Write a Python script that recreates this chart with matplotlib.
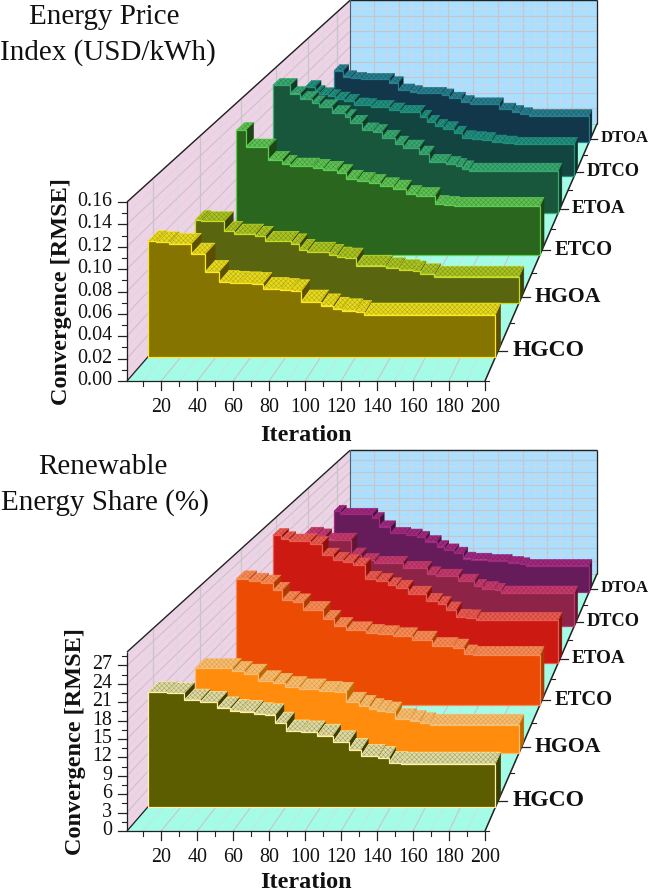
import matplotlib
matplotlib.use("Agg")
import matplotlib.pyplot as plt
from matplotlib.colors import to_rgb
from matplotlib.patches import Polygon

plt.rcParams['font.family'] = ['Liberation Serif', 'DejaVu Sans']
plt.rcParams['hatch.linewidth'] = 0.3

series_names = ["HGCO", "HGOA", "ETCO", "ETOA", "DTCO", "DTOA"]
iter_major = list(range(20, 201, 20))
iter_minor = list(range(10, 200, 20))

# Energy price panel: iteration where each step starts, and its RMSE
price_zmax = 0.16
price_ticks = [0.00, 0.02, 0.04, 0.06, 0.08, 0.10, 0.12, 0.14, 0.16]
price_hgco_it = [1, 6, 13, 26, 34, 42, 48, 54, 61, 67, 77, 83, 89, 100, 107, 112, 120, 125]
price_hgco = [.1067, .1058, .1043, .0951, .0788, .0694, .0688, .0682, .0676, .0629, .0620, .0608,
              .0512, .0476, .0445, .0430, .0414, .0390]
price_hgoa_it = [1, 5, 19, 25, 38, 44, 60, 65, 70, 83, 88, 93, 100, 118, 126, 135, 139, 148]
price_hgoa = [.0817, .0803, .0705, .0678, .0655, .0606, .0580, .0524, .0497, .0474, .0448, .0438,
              .0366, .0343, .0323, .0310, .0283, .0257]
price_etco_it = [1, 7, 22, 31, 36, 51, 58, 67, 73, 80, 88, 95, 104, 112, 119, 131, 137, 144]
price_etco = [.1314, .1137, .1004, .0961, .0933, .0919, .0898, .0863, .0803, .0778, .0757, .0722,
              .0697, .0638, .0617, .0532, .0522, .0514]
price_etoa_it = [1, 13, 20, 28, 33, 42, 51, 55, 63, 71, 77, 86, 92, 103, 110, 122, 129, 133, 138]
price_etoa = [.1432, .1338, .1281, .1233, .1188, .1121, .1076, .1012, .0926, .0907, .0843, .0776,
              .0731, .0663, .0570, .0544, .0522, .0495, .0469]
price_dtco_it = [1, 8, 11, 18, 23, 30, 37, 44, 50, 63, 71, 86, 91, 97, 103, 111, 117, 124, 132, 139, 147, 155]
price_dtco = [.1053, .0993, .0966, .0942, .0914, .0886, .0843, .0834, .0814, .0783, .0755, .0695,
              .0635, .0584, .0557, .0504, .0449, .0437, .0426, .0397, .0385, .0370]
price_dtoa_it = [1, 8, 14, 22, 44, 51, 60, 66, 85, 91, 100, 107, 130, 140, 146, 153]
price_dtoa = [.0899, .0823, .0802, .0790, .0747, .0655, .0634, .0613, .0592, .0551, .0508, .0479,
              .0412, .0382, .0353, .0331]

# Renewable share panel
share_zmax = 29.2
share_ticks = [0, 3, 6, 9, 12, 15, 18, 21, 24, 27]
share_hgco_it = [1, 12, 22, 31, 41, 48, 54, 62, 68, 74, 80, 89, 98, 107, 116, 123, 133, 139, 146]
share_hgco = [19.32, 19.15, 18.04, 17.64, 16.70, 16.25, 16.08, 15.69, 15.52, 14.11, 12.77, 12.60,
              12.05, 10.92, 9.64, 8.57, 8.23, 7.39, 7.29]
share_hgoa_it = [1, 24, 31, 40, 49, 56, 65, 77, 87, 94, 102, 108, 113, 118, 124, 133, 139, 145]
share_hgoa = [15.20, 14.66, 14.19, 12.98, 12.50, 11.90, 11.49, 11.05, 10.87, 9.07, 8.47, 7.88, 7.57,
              7.27, 6.08, 5.77, 5.35, 5.05]
share_etco_it = [1, 9, 17, 25, 31, 38, 45, 58, 65, 73, 86, 94, 104, 116, 129, 143, 150, 156]
share_etco = [24.28, 23.84, 23.45, 22.04, 20.23, 19.79, 18.31, 16.57, 15.17, 14.34, 13.82, 13.57,
              13.18, 12.53, 11.25, 10.98, 9.83, 9.52]
share_etoa_it = [1, 7, 12, 27, 35, 43, 50, 57, 65, 73, 81, 87, 95, 108, 116, 122, 129, 136, 143]
share_etoa = [26.13, 25.43, 24.96, 24.41, 22.03, 21.13, 20.65, 19.98, 17.23, 16.76, 15.87, 15.38,
              14.15, 12.65, 11.98, 10.87, 9.37, 9.23, 8.70]
share_dtco_it = [1, 10, 16, 35, 42, 52, 73, 91, 98, 114, 126, 132, 141, 146]
share_dtco = [19.94, 19.57, 18.64, 15.38, 14.14, 13.56, 12.47, 11.24, 10.73, 9.64, 8.48, 7.98, 7.61, 7.03]
share_dtoa_it = [1, 6, 31, 36, 45, 57, 66, 72, 81, 87, 95, 102, 108, 121, 137, 146, 151]
share_dtoa = [18.61, 17.92, 16.93, 15.00, 13.48, 13.10, 12.56, 11.56, 10.42, 9.65, 8.90, 7.74, 7.50,
              7.20, 6.74, 6.43, 6.05]

# front, top, riser, edge
price_colors = [("#857400", "#e6da1e", "#5c5000", "#ffe81e"),
                ("#5a6510", "#a9c322", "#3a4208", "#c8dc20"),
                ("#2b661e", "#5fc254", "#1d4614", "#5ccf50"),
                ("#18573c", "#38aa70", "#10392a", "#38aa70"),
                ("#124540", "#20917f", "#0c2f2c", "#20917f"),
                ("#12364a", "#277f8e", "#0c2634", "#277f8e")]
share_colors = [("#5c5c00", "#dedca4", "#3d3d00", "#fff2a8"),
                ("#ff8c0d", "#f5bd72", "#bf6800", "#f5bd72"),
                ("#eb4b03", "#f58c58", "#ae3a00", "#f58c58"),
                ("#cc1a12", "#e85c52", "#8c1008", "#e85c52"),
                ("#8d2448", "#c43a6c", "#611532", "#c43a6c"),
                ("#661c5a", "#a0287e", "#46103e", "#a0287e")]

VP_X, VP_Y = 846.0, -448.0
K = 0.45
RIBBON = 0.036
LEFT, WIDTH, FLOOR, HEIGHT = 127.0, 358.0, 381.0, 179.0


def project(it, depth, val, zmax, dy):
    s = 1.0 / (1.0 + K * depth)
    fx = LEFT + (it - 1) / 199.0 * WIDTH
    fy = FLOOR - val / zmax * HEIGHT
    return VP_X + s * (fx - VP_X), VP_Y + s * (fy - VP_Y) + dy


def blend(a, b, t):
    return tuple((1 - t) * x + t * y for x, y in zip(to_rgb(a), to_rgb(b)))


def quad(ax, pts, face, z=1, hatch_col=None):
    if hatch_col:
        ax.add_patch(Polygon(pts, closed=True, facecolor=face, edgecolor=hatch_col, hatch="xxxxxxx",
                             linewidth=0, zorder=z))
    else:
        ax.add_patch(Polygon(pts, closed=True, facecolor=face, edgecolor=face, linewidth=0.3, zorder=z))


def draw_walls(ax, zmax, ticks, minor_z, dy):
    p = lambda it, d, v: project(it, d, v, zmax, dy)
    quad(ax, [p(1, 0, 0), p(1, 1, 0), p(1, 1, zmax), p(1, 0, zmax)], "#eed2e6", 0.1)
    quad(ax, [p(1, 1, 0), p(200, 1, 0), p(200, 1, zmax), p(1, 1, zmax)], "#abdfff", 0.1)
    quad(ax, [p(1, 0, 0), p(200, 0, 0), p(200, 1, 0), p(1, 1, 0)], "#a5fce6", 0.1)

    def line(a, b, col, lw):
        ax.plot([a[0], b[0]], [a[1], b[1]], color=col, lw=lw, zorder=0.5, solid_capstyle="butt")

    grey, light = "#c9c4c8", "#d8d6dc"
    for it in iter_minor:
        line(p(it, 1, 0), p(it, 1, zmax), light, 0.5)
        line(p(it, 0, 0), p(it, 1, 0), light, 0.4)
    for it in iter_major:
        line(p(it, 1, 0), p(it, 1, zmax), grey, 0.9)
        line(p(it, 0, 0), p(it, 1, 0), grey, 0.8)
    for v in minor_z:
        line(p(1, 0, v), p(1, 1, v), light, 0.5)
        line(p(1, 1, v), p(200, 1, v), light, 0.5)
    for v in ticks:
        line(p(1, 0, v), p(1, 1, v), grey, 0.8)
        line(p(1, 1, v), p(200, 1, v), grey, 0.8)
    for i in range(6):
        d = (i + 0.5) / 6
        line(p(1, d, 0), p(1, d, zmax), grey, 0.9)
        line(p(1, i / 6, 0), p(1, i / 6, zmax), light, 0.5)

    # frame
    for a, b, lw in [(p(1, 0, zmax), p(1, 1, zmax), 1.0), (p(1, 1, zmax), p(200, 1, zmax), 1.0),
                     (p(200, 1, zmax), p(200, 1, 0), 0.9), (p(200, 1, 0), p(200, 0, 0), 1.1),
                     (p(1, 0, 0), p(200, 0, 0), 0.9), (p(1, 0, 0), p(1, 1, 0), 0.9),
                     (p(1, 0, 0), p(1, 0, zmax), 0.9)]:
        line(a, b, "#222222", lw)
    line(p(1, 1, 0), p(1, 1, zmax), "#50606a", 0.8)


def draw_ticks(ax, zmax, ticks, minor_z, labels, dy):
    p = lambda it, d, v: project(it, d, v, zmax, dy)
    for v, lab in zip(ticks, labels):
        x, y = p(1, 0, v)
        ax.plot([x - 9, x], [y, y], color="#222222", lw=0.9, zorder=2)
        ax.text(x - 15, y - 0.5, lab, ha="right", va="center", fontsize=14.4, color="#111111", zorder=3)
    for v in minor_z:
        x, y = p(1, 0, v)
        ax.plot([x - 5, x], [y, y], color="#222222", lw=0.8, zorder=2)
    for it in iter_major:
        x, y = p(it, 0, 0)
        ax.plot([x, x], [y, y + 9], color="#222222", lw=0.9, zorder=2)
        ax.text(x, y + 27, str(it), ha="center", va="center", fontsize=14.4, color="#111111", zorder=3)
    for it in iter_minor:
        x, y = p(it, 0, 0)
        ax.plot([x, x], [y, y + 5], color="#222222", lw=0.8, zorder=2)
    label_sizes = [17, 15.7, 14.8, 13.8, 13.2, 12.0]
    label_gaps = [14.5, 13.4, 12.2, 11.7, 10.8, 10.5]
    for i, name in enumerate(series_names):
        x, y = p(200, (i + 0.5) / 6, 0)
        ax.plot([x, x + label_gaps[i] * 0.65], [y, y], color="#222222", lw=0.9, zorder=2)
        ax.text(x + label_gaps[i], y - 0.5, name, ha="left", va="center", fontsize=label_sizes[i],
                fontweight="bold", color="#111111", zorder=3)
        x, y = p(200, i / 6, 0)
        ax.plot([x, x + 4], [y, y], color="#222222", lw=0.8, zorder=2)


def draw_series(ax, its, vals, index, cols, zmax, dy):
    front, top, riser, edge = cols
    d0 = (index + 0.5) / 6 - RIBBON / 2
    d1 = d0 + RIBBON
    p = lambda it, d, v: project(it, d, v, zmax, dy)
    ends = its[1:] + [200]
    outline = [p(1, d0, 0)]
    for a, b, v in zip(its, ends, vals):
        outline += [p(a, d0, v), p(b, d0, v)]
    outline.append(p(200, d0, 0))

    hatch_col = blend(top, riser, 0.45)
    for k, (a, b, v) in enumerate(zip(its, ends, vals)):
        quad(ax, [p(a, d0, v), p(b, d0, v), p(b, d1, v), p(a, d1, v)], top, 1, hatch_col)
        next_v = vals[k + 1] if k + 1 < len(vals) else 0
        quad(ax, [p(b, d0, v), p(b, d1, v), p(b, d1, next_v), p(b, d0, next_v)], riser, 1)
        xs, ys = zip(p(a, d1, v), p(b, d1, v), p(b, d0, v), p(a, d0, v), p(a, d1, v))
        ax.plot(xs, ys, color=edge, lw=0.4, zorder=1)
    ax.add_patch(Polygon(outline, closed=True, facecolor=front, edgecolor=edge, linewidth=0.9, zorder=1))


def draw_panel(ax, series, colors, zmax, ticks, minor_z, labels, title, title_x, label_x, xlabel_base, dy):
    draw_walls(ax, zmax, ticks, minor_z, dy)
    # back row first so nearer rows cover it
    for i in range(5, -1, -1):
        its, vals = series[i]
        draw_series(ax, its, vals, i, colors[i], zmax, dy)
    draw_ticks(ax, zmax, ticks, minor_z, labels, dy)
    ax.text(label_x, 292 + dy, "Convergence [RMSE]", rotation=90, ha="center", va="center",
            fontsize=17.5, fontweight="bold", color="#111111")
    ax.text(306, xlabel_base + dy, "Iteration", ha="center", va="baseline", fontsize=17.5,
            fontweight="bold", color="#111111")
    for line_text, cx, base in zip(title, title_x, [24, 60]):
        ax.text(cx, base + dy, line_text, ha="center", va="baseline", fontsize=21, color="#111111")


fig = plt.figure(figsize=(6.51, 8.93), dpi=100)
ax = fig.add_axes([0, 0, 1, 1])
ax.set_xlim(0, 651)
ax.set_ylim(893, 0)
ax.axis("off")

price_series = [(price_hgco_it, price_hgco), (price_hgoa_it, price_hgoa), (price_etco_it, price_etco),
                (price_etoa_it, price_etoa), (price_dtco_it, price_dtco), (price_dtoa_it, price_dtoa)]
share_series = [(share_hgco_it, share_hgco), (share_hgoa_it, share_hgoa), (share_etco_it, share_etco),
                (share_etoa_it, share_etoa), (share_dtco_it, share_dtco), (share_dtoa_it, share_dtoa)]

price_minor = [t + 0.01 for t in price_ticks[:-1]]
share_minor = [t + 1.5 for t in share_ticks]

draw_panel(ax, price_series, price_colors, price_zmax, price_ticks, price_minor,
           [f"{t:.2f}" for t in price_ticks], ["Energy Price", "Index (USD/kWh)"], [104, 108], 61, 441, 0)
draw_panel(ax, share_series, share_colors, share_zmax, share_ticks, share_minor,
           [str(t) for t in share_ticks], ["Renewable", "Energy Share (%)"], [103, 104.5], 76, 437.5, 450)

fig.savefig("out.png", dpi=100)
